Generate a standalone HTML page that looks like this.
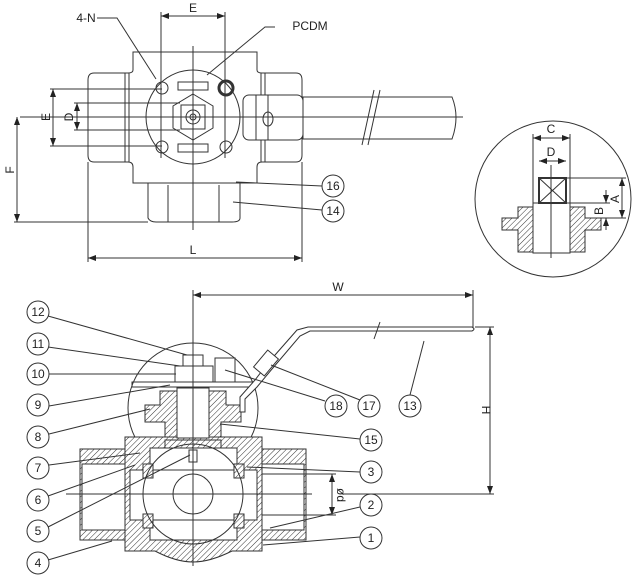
<!DOCTYPE html>
<html><head><style>html,body{margin:0;padding:0;background:#fff}svg{display:block}text{font-family:"Liberation Sans",sans-serif;fill:#222}</style></head><body>
<svg width="636" height="580" viewBox="0 0 636 580" xmlns="http://www.w3.org/2000/svg">
<defs>
<pattern id="h" width="4" height="4" patternUnits="userSpaceOnUse" patternTransform="rotate(45)"><rect width="4" height="4" fill="#fff"/><line x1="0" y1="0" x2="0" y2="4" stroke="#333" stroke-width="1"/></pattern>
<marker id="a" markerWidth="8" markerHeight="6" refX="8" refY="3" orient="auto-start-reverse"><path d="M0,0L8,3L0,6z" fill="#222"/></marker>
</defs>
<g fill="none" stroke="#333" stroke-width="1">
<!-- TOP VIEW -->
<path d="M133,52H257V70Q257,73 262,73H296Q302,73 302,80V155Q302,162 296,162H262Q257,162 257,167V183H133V167Q133,162 128,162H94Q88,162 88,155V80Q88,73 94,73H128Q133,73 133,70Z" fill="#fff"/>
<line x1="125" y1="73" x2="125" y2="162"/><line x1="129" y1="73" x2="129" y2="162"/>
<line x1="261" y1="73" x2="261" y2="162"/><line x1="265" y1="73" x2="265" y2="162"/>
<path d="M148,183V218Q150,222 156,222H232Q240,222 240,218V183" />
<line x1="168" y1="185" x2="168" y2="222"/><line x1="219" y1="185" x2="219" y2="222"/>
<circle cx="193" cy="117" r="47" fill="#fff"/>
<rect x="178" y="82" width="30" height="8"/><rect x="178" y="144" width="30" height="8"/>
<circle cx="162" cy="88" r="6"/><circle cx="162" cy="147" r="6"/><circle cx="226" cy="147" r="6"/>
<circle cx="226" cy="88" r="7" stroke-width="3"/>
<polygon points="193,94 213,106 213,128 193,140 173,128 173,106"/>
<rect x="181" y="105" width="24" height="24"/><circle cx="193" cy="117" r="7"/><circle cx="193" cy="117" r="3"/>
<rect x="243" y="95" width="60" height="45" rx="6" fill="#fff"/>
<rect x="256" y="95" width="12" height="45"/>
<ellipse cx="268" cy="119" rx="5" ry="7"/>
<path d="M303,97H452Q460,117 452,139H303Z" fill="#fff"/>
<line x1="362" y1="145" x2="374" y2="90"/><line x1="368" y1="145" x2="380" y2="90"/>
<line x1="193" y1="46" x2="193" y2="230"/>
<line x1="20" y1="117" x2="463" y2="117"/>
<line x1="161" y1="12" x2="161" y2="158"/><line x1="225" y1="12" x2="225" y2="158"/>
<line x1="161" y1="16" x2="225" y2="16" marker-start="url(#a)" marker-end="url(#a)"/>
<line x1="50" y1="89" x2="162" y2="89"/><line x1="50" y1="146" x2="162" y2="146"/>
<line x1="53" y1="89" x2="53" y2="146" marker-start="url(#a)" marker-end="url(#a)"/>
<line x1="74" y1="103" x2="180" y2="103"/><line x1="74" y1="130" x2="180" y2="130"/>
<line x1="77" y1="103" x2="77" y2="130" marker-start="url(#a)" marker-end="url(#a)"/>
<line x1="14" y1="222" x2="148" y2="222"/>
<line x1="17" y1="117" x2="17" y2="222" marker-start="url(#a)" marker-end="url(#a)"/>
<line x1="88" y1="162" x2="88" y2="262"/><line x1="302" y1="162" x2="302" y2="262"/>
<line x1="88" y1="258" x2="302" y2="258" marker-start="url(#a)" marker-end="url(#a)"/>
<polyline points="97,18 117,18 156,79"/>
<polyline points="275,27 265,27 207,75"/>
<line x1="236" y1="182" x2="322" y2="186"/><line x1="233" y1="202" x2="322" y2="210"/>
<circle cx="333" cy="186" r="11" fill="#fff"/><circle cx="333" cy="211" r="11" fill="#fff"/>
<!-- DETAIL CIRCLE -->
<circle cx="553" cy="199" r="78"/>
<rect x="533" y="203" width="37" height="50" fill="#fff"/>
<rect x="539" y="178" width="27" height="25" stroke-width="2"/>
<line x1="539" y1="178" x2="566" y2="203"/><line x1="566" y1="178" x2="539" y2="203"/>
<path d="M518,207H533V252H518V230H502V218H518Z" fill="url(#h)"/>
<path d="M585,207H570V252H585V230H601V218H585Z" fill="url(#h)"/>
<line x1="551" y1="165" x2="551" y2="258"/>
<line x1="533" y1="134" x2="533" y2="203"/><line x1="570" y1="134" x2="570" y2="203"/>
<line x1="533" y1="138" x2="570" y2="138" marker-start="url(#a)" marker-end="url(#a)"/>
<line x1="539" y1="161" x2="566" y2="161" marker-start="url(#a)" marker-end="url(#a)"/>
<line x1="566" y1="178" x2="626" y2="178"/><line x1="570" y1="203" x2="610" y2="203"/><line x1="601" y1="218" x2="626" y2="218"/>
<line x1="622" y1="178" x2="622" y2="218" marker-start="url(#a)" marker-end="url(#a)"/>
<line x1="606" y1="190" x2="606" y2="203" marker-end="url(#a)"/><line x1="606" y1="230" x2="606" y2="218" marker-end="url(#a)"/>
<!-- BOTTOM VIEW -->
<circle cx="193" cy="408" r="65"/>
<path d="M80,449H128V540H80Z" fill="url(#h)"/>
<path d="M258,449H306V540H258Z" fill="url(#h)"/>
<rect x="82" y="464" width="222" height="66" fill="#fff"/>
<path d="M125,437H262V551H232Q210,562 193,562Q176,562 155,551H125Z" fill="url(#h)"/>
<rect x="150" y="448" width="87" height="92" fill="#fff"/>
<rect x="130" y="470" width="127" height="50" fill="#fff"/>
<rect x="143" y="464" width="10" height="14" fill="url(#h)"/><rect x="234" y="464" width="10" height="14" fill="url(#h)"/>
<rect x="143" y="514" width="10" height="14" fill="url(#h)"/><rect x="234" y="514" width="10" height="14" fill="url(#h)"/>
<circle cx="193" cy="494" r="50"/>
<circle cx="193" cy="494" r="20"/>
<rect x="189" y="450" width="8" height="12"/>
<path d="M160,391H177V437H165V422H145V405H160Z" fill="url(#h)"/>
<path d="M226,391H209V437H221V422H241V405H226Z" fill="url(#h)"/>
<rect x="177" y="388" width="32" height="50" fill="#fff"/>
<rect x="165" y="440" width="56" height="8"/>
<rect x="132" y="382" width="122" height="5"/>
<rect x="175" y="366" width="38" height="16"/>
<rect x="183" y="355" width="20" height="11"/>
<rect x="215" y="358" width="20" height="24"/>
<path d="M240,412L240,397L255,380L268,363L297,330L308,327H472Q476,329 472,331H310L300,336L272,369L257,387L245,399L245,412Z" fill="#fff"/>
<rect x="255" y="356" width="22" height="14" transform="rotate(-50 266 363)" fill="#fff"/>
<line x1="374" y1="339" x2="380" y2="322"/>
<line x1="193" y1="290" x2="193" y2="566"/>
<line x1="66" y1="494" x2="312" y2="494"/><line x1="342" y1="494" x2="494" y2="494"/>
<line x1="473" y1="290" x2="473" y2="327"/>
<line x1="193" y1="295" x2="473" y2="295" marker-start="url(#a)" marker-end="url(#a)"/>
<line x1="475" y1="327" x2="494" y2="327"/>
<line x1="490" y1="327" x2="490" y2="494" marker-start="url(#a)" marker-end="url(#a)"/>
<line x1="262" y1="474" x2="336" y2="474"/><line x1="262" y1="515" x2="336" y2="515"/>
<line x1="332" y1="474" x2="332" y2="515" marker-start="url(#a)" marker-end="url(#a)"/>
<g fill="#fff">
<line x1="48" y1="316" x2="187" y2="355"/><line x1="48" y1="347" x2="180" y2="366"/><line x1="49" y1="374" x2="176" y2="374"/>
<line x1="49" y1="406" x2="170" y2="385"/><line x1="49" y1="434" x2="150" y2="409"/><line x1="49" y1="465" x2="140" y2="453"/>
<line x1="48" y1="496" x2="135" y2="465"/><line x1="48" y1="527" x2="190" y2="455"/><line x1="48" y1="560" x2="112" y2="541"/>
<line x1="360" y1="439" x2="220" y2="424"/><line x1="360" y1="472" x2="247" y2="467"/><line x1="360" y1="507" x2="270" y2="528"/><line x1="360" y1="537" x2="263" y2="545"/>
<line x1="325" y1="401" x2="225" y2="370"/><line x1="360" y1="400" x2="271" y2="365"/><line x1="410" y1="395" x2="424" y2="341"/>
<circle cx="38" cy="312" r="11"/><circle cx="38" cy="344" r="11"/><circle cx="38" cy="374" r="11"/><circle cx="38" cy="405" r="11"/><circle cx="38" cy="437" r="11"/><circle cx="38" cy="468" r="11"/><circle cx="38" cy="500" r="11"/><circle cx="38" cy="531" r="11"/><circle cx="38" cy="563" r="11"/>
<circle cx="371" cy="440" r="11"/><circle cx="371" cy="472" r="11"/><circle cx="371" cy="505" r="11"/><circle cx="371" cy="538" r="11"/>
<circle cx="336" cy="406" r="11"/><circle cx="369" cy="406" r="11"/><circle cx="410" cy="406" r="11"/>
</g>
</g>
<g font-size="12" text-anchor="middle">
<text x="193" y="12">E</text><text x="86" y="22">4-N</text><text x="310" y="30">PCDM</text>
<text x="193" y="254">L</text>
<text transform="translate(50,117) rotate(-90)">E</text><text transform="translate(73,117) rotate(-90)">D</text><text transform="translate(14,170) rotate(-90)">F</text>
<text x="333" y="190">16</text><text x="333" y="215">14</text>
<text x="551" y="133">C</text><text x="551" y="156">D</text>
<text transform="translate(619,199) rotate(-90)">A</text><text transform="translate(603,211) rotate(-90)">B</text>
<text x="338" y="291">W</text><text transform="translate(482,410) rotate(90)">H</text><text transform="translate(337,495) rotate(90)">ød</text>
<text x="38" y="316">12</text><text x="38" y="348">11</text><text x="38" y="378">10</text><text x="38" y="409">9</text><text x="38" y="441">8</text><text x="38" y="472">7</text><text x="38" y="504">6</text><text x="38" y="535">5</text><text x="38" y="567">4</text>
<text x="371" y="444">15</text><text x="371" y="476">3</text><text x="371" y="509">2</text><text x="371" y="542">1</text>
<text x="336" y="410">18</text><text x="369" y="410">17</text><text x="410" y="410">13</text>
</g>
</svg>
</body></html>
